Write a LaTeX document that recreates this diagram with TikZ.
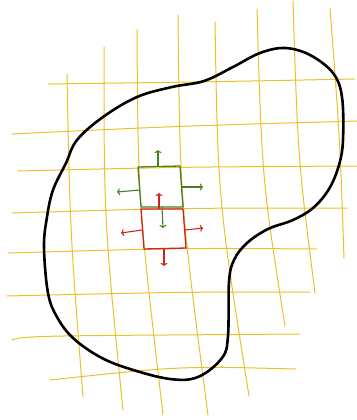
\documentclass[tikz,border=0pt]{standalone}
\usetikzlibrary{arrows.meta}
\definecolor{gridyellow}{RGB}{236,192,40}
\definecolor{cellgreen}{RGB}{72,128,36}
\definecolor{cellred}{RGB}{206,36,30}
\tikzset{
  gridline/.style={gridyellow,line width=1bp,line cap=round},
  blobline/.style={black,line width=2.6bp},
  greencell/.style={cellgreen,line width=1.3bp,line join=round},
  redcell/.style={cellred,line width=1.3bp,line join=round},
  greenarrow/.style={cellgreen,line width=1.1bp,-{To[length=3bp,width=7bp]}},
  redarrow/.style={cellred,line width=1.1bp,-{To[length=3bp,width=7bp]}}
}
\begin{document}
\begin{tikzpicture}[x=1bp,y=-1bp]
  \useasboundingbox (0,0) rectangle (357,420);
  % horizontal grid lines
  \draw[gridline] (48,84) .. controls (200,82) .. (355,79);
  \draw[gridline] (12,134) .. controls (180,126) .. (357,121);
  \draw[gridline] (18,171) .. controls (180,167) .. (357,166);
  \draw[gridline] (12,213) .. controls (180,208) .. (347,208);
  \draw[gridline] (8,253) .. controls (180,248) .. (317,249);
  \draw[gridline] (7,296) .. controls (180,292) .. (310,292);
  \draw[gridline] (12,340) .. controls (25,335) and (60,336) .. (300,334);
  \draw[gridline] (50,380) .. controls (180,366) .. (296,369);
  % vertical grid lines
  \draw[gridline] (67,74) .. controls (70,230) .. (83,397);
  \draw[gridline] (104,47) .. controls (104,220) .. (123,410);
  \draw[gridline] (137,29) .. controls (138,200) .. (163,415);
  \draw[gridline] (178,15) .. controls (180,200) .. (208,415);
  \draw[gridline] (215,22) .. controls (218,200) .. (249,396);
  \draw[gridline] (257,9) .. controls (262,180) .. (285,326);
  \draw[gridline] (293,1) .. controls (298,160) .. (315,293);
  \draw[gridline] (330,8) .. controls (340,140) .. (344,258);
  % outline of the region
  \draw[blobline] plot[smooth cycle,tension=0.6] coordinates {
    (77,140) (103,117) (137,97) (172,87) (204,81)
    (233,67) (260,53) (285,48) (310,55) (333,73) (342,97) (343,140)
    (339,165) (329,189) (313,208) (293,220) (268,229) (247,243)
    (234,260) (229,282) (228,336) (222,358) (198,377) (170,379)
    (130,369) (100,357) (73,338) (57,317) (48,293) (44,247) (47,217)
    (53,190) (66,163)};
  % cells
  \draw[greencell] (138,167) -- (180,166) -- (183,207) -- (141,207) -- cycle;
  \draw[redcell] (141,209) -- (183,209) -- (186,248) -- (144,249) -- cycle;
  % green moves
  \coordinate (gtop) at (158,166);   \coordinate (gup) at (158,150);
  \coordinate (gleft) at (140,190);  \coordinate (gwest) at (117,192);
  \coordinate (gright) at (182,187); \coordinate (geast) at (203,187);
  \coordinate (gbot) at (162,207);   \coordinate (gdown) at (163,228);
  \draw[greenarrow] (gtop) -- (gup);
  \draw[greenarrow] (gleft) -- (gwest);
  \draw[greenarrow] (gright) -- (geast);
  \draw[greenarrow] (gbot) -- (gdown);
  % red moves
  \coordinate (rtop) at (159,209);   \coordinate (rup) at (159,193);
  \coordinate (rleft) at (142,230);  \coordinate (rwest) at (121,233);
  \coordinate (rright) at (185,230); \coordinate (reast) at (203,228);
  \coordinate (rbot) at (164,249);   \coordinate (rdown) at (164,266);
  \draw[redarrow] (rtop) -- (rup);
  \draw[redarrow] (rleft) -- (rwest);
  \draw[redarrow] (rright) -- (reast);
  \draw[redarrow] (rbot) -- (rdown);
\end{tikzpicture}
\end{document}
